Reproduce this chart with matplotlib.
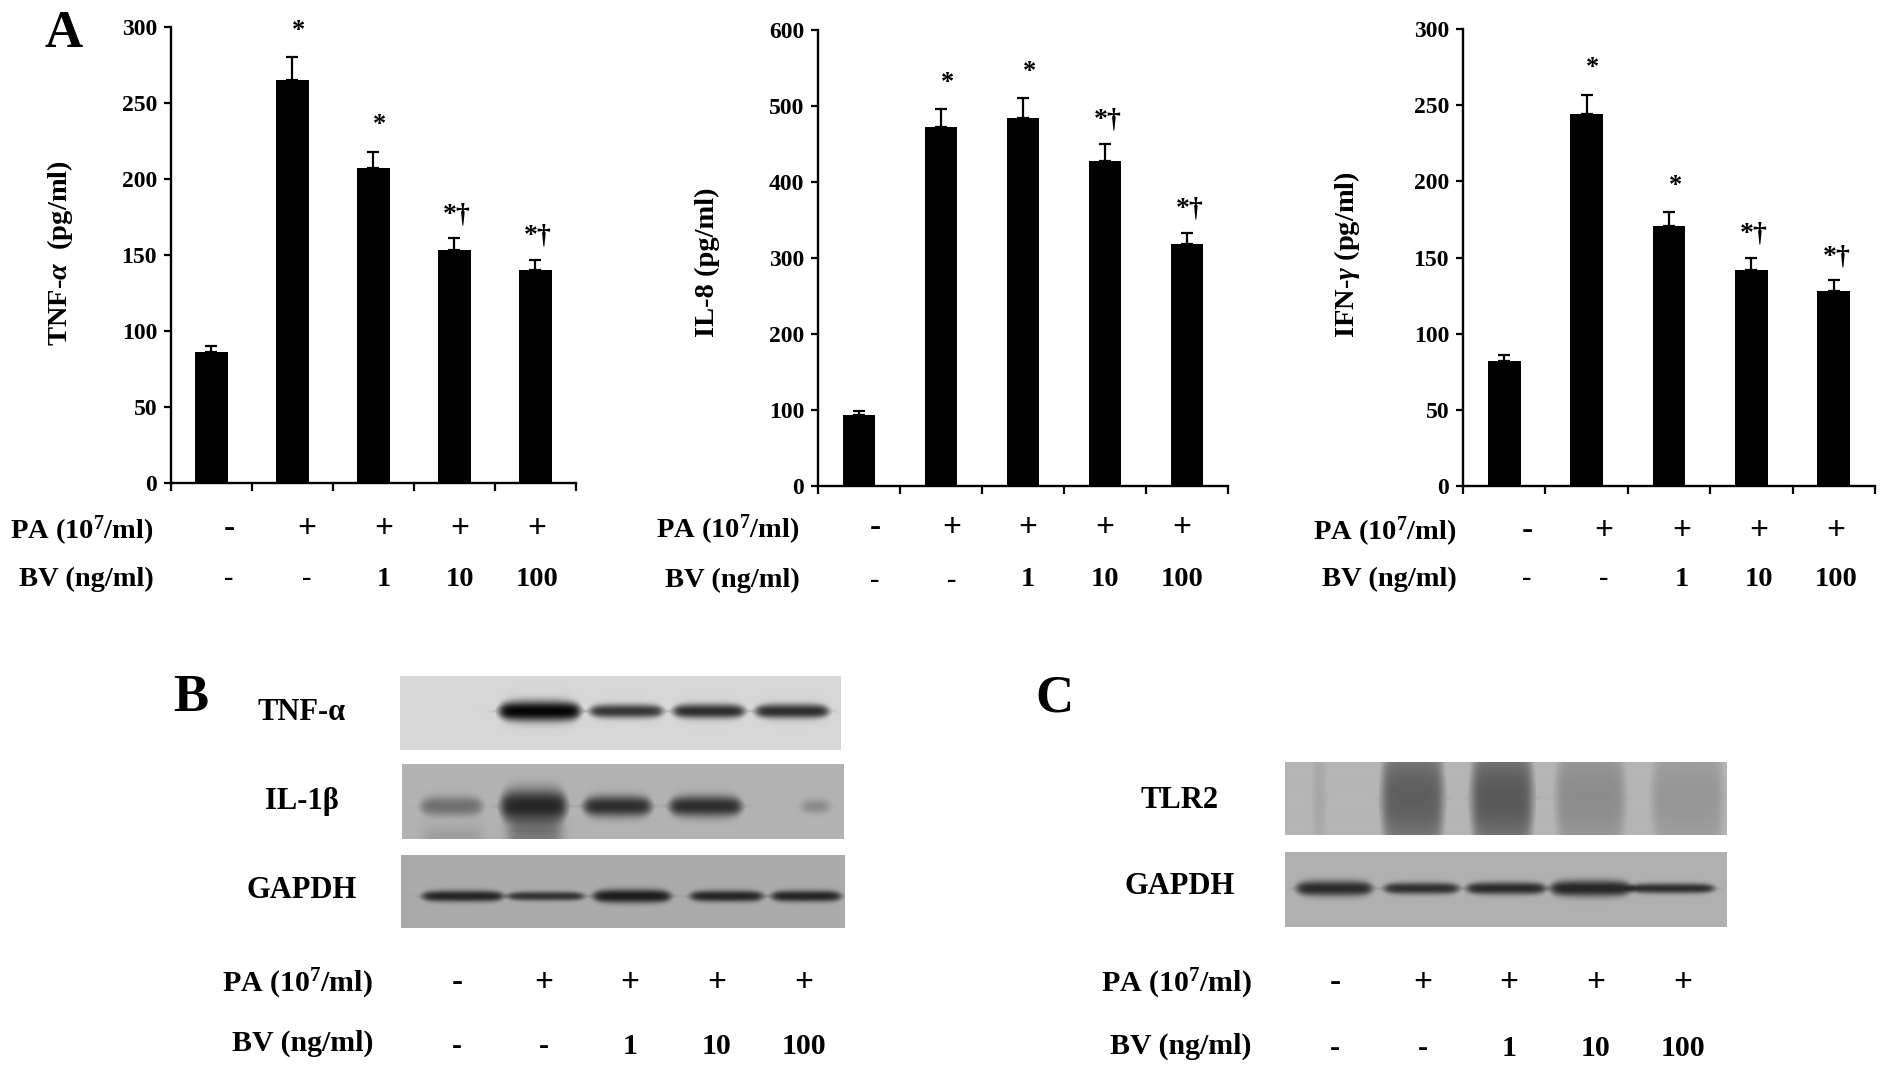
import matplotlib
matplotlib.use('Agg')
import matplotlib.pyplot as plt
import numpy as np

plt.rcParams['font.family'] = ['Liberation Serif', 'DejaVu Serif']
plt.rcParams['font.weight'] = 'bold'
plt.rcParams['mathtext.fontset'] = 'custom'
plt.rcParams['mathtext.rm'] = 'Liberation Serif:bold'
plt.rcParams['mathtext.bf'] = 'Liberation Serif:bold'
plt.rcParams['mathtext.it'] = 'Liberation Serif:italic:bold'

W, H = 1890, 1074

# bar values
tnf_mean = [86, 265, 207, 153, 140]
tnf_top = [90, 280, 218, 161, 147]
il8_mean = [94, 472, 484, 428, 318]
il8_top = [99, 496, 510, 450, 333]
ifn_mean = [82, 244, 171, 142, 128]
ifn_top = [86, 257, 180, 150, 135]

tnf_sig = ['', '*', '*', '*†', '*†']
il8_sig = ['', '*', '*', '*†', '*†']
ifn_sig = ['', '*', '*', '*†', '*†']

pa_row = ['-', '+', '+', '+', '+']
bv_row = ['-', '-', '1', '10', '100']
pa_label = 'PA (10$^{7}$/ml)'
bv_label = 'BV (ng/ml)'

# band density per lane of each blot, 0 = none, 1 = black
b_tnf_density = [0.82, 0.62, 0.66, 0.66]
b_il1_density = [0.26, 0.55, 0.52, 0.52, 0.16]
b_gapdh_density = [0.52, 0.46, 0.56, 0.52, 0.52]
c_tlr2_density = [0.10, 0.34, 0.36, 0.16, 0.12]
c_gapdh_density = [0.52, 0.50, 0.52, 0.54, 0.50]


def px_axes(fig, x0, y0, x1, y1):
    """axes from picture pixels, y counted from the top"""
    return fig.add_axes([x0 / W, 1 - y1 / H, (x1 - x0) / W, (y1 - y0) / H])


def px_text(fig, x, y, s, **kwargs):
    kwargs.setdefault('ha', 'center')
    kwargs.setdefault('va', 'center')
    fig.text(x / W, 1 - y / H, s, **kwargs)


def plot_bars(fig, box, mean, top, sig, ymax, step, ylabel, ylabel_x, ylabel_y):
    ax = px_axes(fig, *box)
    x = np.arange(len(mean))
    err = np.array(top) - np.array(mean)
    ax.bar(x, mean, width=0.4, color='k')
    ax.errorbar(x, mean, yerr=[np.zeros(len(err)), err], fmt='none', ecolor='k',
                elinewidth=1.6, capsize=4.5, capthick=1.6)
    ax.set_xlim(-0.5, 4.5)
    ax.set_ylim(0, ymax)
    ax.set_xticks(np.arange(-0.5, 5))
    ax.set_xticklabels([])
    ax.set_yticks(np.arange(0, ymax + 1, step))
    ax.tick_params(axis='y', length=5, width=1.6, labelsize=17, pad=5)
    ax.tick_params(axis='x', length=6, width=1.6)
    for side in ('top', 'right'):
        ax.spines[side].set_visible(False)
    for side in ('left', 'bottom'):
        ax.spines[side].set_linewidth(1.7)
    for i, s in enumerate(sig):
        if s == '*':
            ax.annotate(s, (x[i], top[i]), xytext=(4.5, 11),
                        textcoords='offset points', ha='center', va='bottom',
                        fontsize=19)
        elif s:
            ax.annotate(s, (x[i], top[i]), xytext=(2, 8),
                        textcoords='offset points', ha='center', va='bottom',
                        fontsize=20)
    px_text(fig, ylabel_x, ylabel_y, ylabel, rotation=90, fontsize=20.5)
    return ax


def plot_rows(fig, centers, y_pa, y_bv, label_x, label_y_bv=None, size=20.5):
    px_text(fig, label_x, y_pa, pa_label, ha='right', fontsize=size)
    px_text(fig, label_x, y_bv if label_y_bv is None else label_y_bv, bv_label,
            ha='right', fontsize=size)
    for c, pa, bv in zip(centers, pa_row, bv_row):
        px_text(fig, c, y_pa - 2, pa, fontsize=24)
        px_text(fig, c, y_bv, bv, fontsize=size)


def plot_blot(fig, box, bg, lanes, density, yc, h, smear=None):
    """grey gel strip, bands are soft-edged boxes"""
    ax = px_axes(fig, *box)
    nx, ny = int(box[2] - box[0]), int(box[3] - box[1])
    xx, yy = np.meshgrid(np.linspace(0, 1, nx), np.linspace(0, 1, ny))
    img = np.full((ny, nx), bg, dtype=float)
    for (x0, x1), d, hh in zip(lanes, density, h):
        edge = 0.012
        fx = (np.tanh((xx - x0) / edge) - np.tanh((xx - x1) / edge)) / 2
        # taper the band towards the lane ends
        taper = np.clip(1 - ((xx - (x0 + x1) / 2) / ((x1 - x0) / 2 + 0.01)) ** 4, 0, 1)
        fy = np.exp(-(np.abs(yy - yc) / (hh / 2 * np.sqrt(taper) + 0.02)) ** 2.4)
        img -= d * fx * fy
    if smear:
        for x0, x1, y0, d in smear:
            fx = (np.tanh((xx - x0) / 0.015) - np.tanh((xx - x1) / 0.015)) / 2
            img -= d * fx * np.clip((yy - y0) / 0.2, 0, 1)
    ax.imshow(np.clip(img, 0, 1), cmap='gray', vmin=0, vmax=1, aspect='auto',
              interpolation='bilinear')
    ax.axis('off')


fig = plt.figure(figsize=(W / 100, H / 100), dpi=100, facecolor='w')

# A
plot_bars(fig, (171, 27, 576, 483), tnf_mean, tnf_top, tnf_sig, 300, 50,
          r'TNF-$\mathit{\alpha}$  (pg/ml)', 60, 253)
plot_bars(fig, (818, 30, 1228, 486), il8_mean, il8_top, il8_sig, 600, 100,
          'IL-8 (pg/ml)', 707, 262)
plot_bars(fig, (1463, 29, 1875, 486), ifn_mean, ifn_top, ifn_sig, 300, 50,
          r'IFN-$\mathit{\gamma}$ (pg/ml)', 1347, 255)
plot_rows(fig, [229, 307, 384, 460, 537], 531, 579, 154)
plot_rows(fig, [875, 952, 1028, 1105, 1182], 530, 580, 800)
plot_rows(fig, [1527, 1604, 1682, 1759, 1836], 532, 579, 1457)

# B
plot_blot(fig, (400, 676, 841, 750), 0.84,
          [(.226, .407), (.433, .594), (.622, .780), (.809, .971)],
          b_tnf_density, 0.475, [0.24, 0.15, 0.16, 0.16])
plot_blot(fig, (402, 764, 844, 839), 0.70,
          [(.044, .179), (.225, .370), (.413, .562), (.608, .767), (.908, .965)],
          b_il1_density, 0.57, [0.22, 0.42, 0.24, 0.24, 0.14],
          smear=[(.05, .18, .75, 0.08), (.24, .36, .70, 0.22)])
plot_blot(fig, (401, 855, 844, 928), 0.67,
          [(.049, .228), (.242, .410), (.435, .606), (.654, .814), (.837, .990)],
          b_gapdh_density, 0.565, [0.12, 0.09, 0.15, 0.12, 0.12])
px_text(fig, 191, 698, 'B', fontsize=38)
for y, s, x in zip((712, 802, 891), ('TNF-α', 'IL-1β', 'GAPDH'), (302, 302, 302)):
    px_text(fig, x, y, s, fontsize=22)
plot_rows(fig, [457, 544, 630, 717, 804], 984, 1046, 373, label_y_bv=1043, size=21.5)

# C
plot_blot(fig, (1285, 762, 1727, 835), 0.71,
          [(.07, .085), (.221, .356), (.424, .559), (.616, .767), (.834, .990)],
          c_tlr2_density, 0.5, [1.6, 1.6, 1.6, 1.6, 1.6])
plot_blot(fig, (1285, 852, 1727, 927), 0.69,
          [(.027, .195), (.226, .391), (.413, .588), (.603, .782), (.782, .970)],
          c_gapdh_density, 0.485, [0.17, 0.12, 0.13, 0.18, 0.10])
px_text(fig, 1054, 698, 'C', fontsize=38)
for y, s in zip((801, 887), ('TLR2', 'GAPDH')):
    px_text(fig, 1180, y, s, fontsize=22)
plot_rows(fig, [1335, 1423, 1509, 1596, 1683], 984, 1049, 1252, label_y_bv=1046, size=21.5)

px_text(fig, 64, 34, 'A', fontsize=38)

plt.savefig('out.png', dpi=100, facecolor='w')
plt.close()
